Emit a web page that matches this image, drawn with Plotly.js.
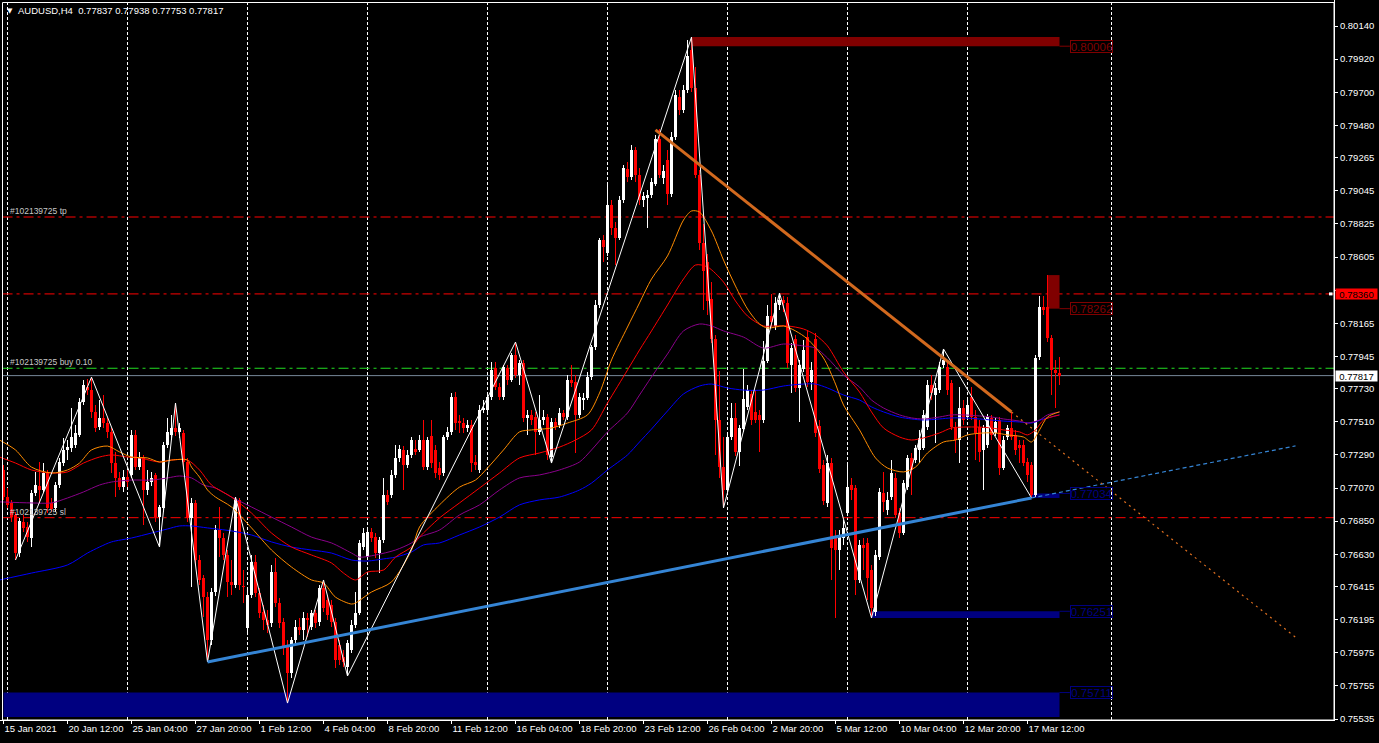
<!DOCTYPE html>
<html>
<head>
<meta charset="utf-8">
<script src="https://cdn.plot.ly/plotly-3.0.1.min.js"></script>
<style>html,body{margin:0;padding:0;background:#000;overflow:hidden}#chart{width:1379px;height:743px}</style>
</head>
<body>
<div id="chart"></div>
<script>
// ---------- DATA (AUDUSD, H4) : bar index 0 = 15 Jan 2021 20:00 ----------
const open = [
0.77190,0.77010,0.76971,0.76891,0.76638,0.76845,0.76811,0.76738,0.77037,0.77083,
0.77057,0.77170,0.76971,0.76938,0.77090,0.77236,0.77323,0.77336,0.77356,0.77423,
0.77642,0.77741,0.77721,0.77576,0.77475,0.77536,0.77502,0.77443,0.77236,0.77137,
0.77076,0.77143,0.77157,0.77423,0.77209,0.77270,0.77057,0.77110,0.77157,0.76877,
0.76938,0.77356,0.77423,0.77469,0.77443,0.77436,0.77243,0.76871,0.76971,0.76592,
0.76472,0.76345,0.76060,0.76379,0.76791,0.76738,0.76625,0.76446,0.76426,0.76991,
0.76419,0.76140,0.76359,0.76579,0.76372,0.76247,0.76193,0.76173,0.76512,0.76306,
0.76180,0.76014,0.75841,0.76060,0.76147,0.76127,0.76207,0.76147,0.76240,0.76180,
0.76406,0.76326,0.76293,0.76180,0.76027,0.75947,0.75881,0.75994,0.76160,0.76240,
0.76678,0.76611,0.76778,0.76744,0.76638,0.76725,0.77024,0.77024,0.77157,0.77270,
0.77323,0.77223,0.77290,0.77329,0.77323,0.77389,0.77209,0.77416,0.77323,0.77203,
0.77170,0.77409,0.77443,0.77675,0.77515,0.77502,0.77469,0.77489,0.77243,0.77190,
0.77589,0.77589,0.77675,0.77867,0.77741,0.77675,0.77867,0.77788,0.77954,0.77821,
0.77901,0.77536,0.77556,0.77542,0.77443,0.77522,0.77542,0.77276,0.77509,0.77489,
0.77569,0.77542,0.77788,0.77775,0.77556,0.77655,0.77668,0.77807,0.78007,0.78286,
0.78718,0.78632,0.78951,0.78798,0.78731,0.78984,0.79190,0.79137,0.79316,0.79150,
0.78984,0.78997,0.79017,0.79090,0.79389,0.79130,0.79250,0.79024,0.79403,0.79669,
0.79582,0.79715,0.79981,0.79728,0.79150,0.78698,0.78572,0.78326,0.78060,0.77522,
0.77209,0.77057,0.77409,0.77536,0.77310,0.77462,0.77609,0.77695,0.77576,0.77556,
0.77522,0.77914,0.78213,0.78147,0.78286,0.78320,0.78300,0.77888,0.78060,0.77734,
0.77861,0.78073,0.77775,0.78060,0.77482,0.77223,0.76971,0.77236,0.76744,0.76658,
0.76738,0.76904,0.77090,0.77070,0.76459,0.76692,0.76705,0.76525,0.76247,0.76611,
0.77037,0.76924,0.77010,0.77137,0.76904,0.76771,0.77076,0.77270,0.77256,0.77323,
0.77336,0.77475,0.77755,0.77688,0.77721,0.77888,0.77874,0.77768,0.77475,0.77389,
0.77602,0.77542,0.77675,0.77542,0.77475,0.77323,0.77356,0.77536,0.77436,0.77522,
0.77203,0.77409,0.77469,0.77423,0.77356,0.77356,0.77243,0.77223,0.77024,0.77941,
0.78273,0.78273,0.78067,0.77854,0.77837];
const high = [
0.77223,0.77070,0.76991,0.76911,0.76871,0.76891,0.76845,0.77057,0.77177,0.77243,
0.77236,0.77190,0.77004,0.77110,0.77270,0.77403,0.77389,0.77602,0.77489,0.77668,
0.77788,0.77794,0.77807,0.77622,0.77655,0.77688,0.77536,0.77469,0.77310,0.77177,
0.77190,0.77190,0.77456,0.77456,0.77310,0.77290,0.77190,0.77177,0.77170,0.76958,
0.77376,0.77536,0.77556,0.77635,0.77502,0.77456,0.77270,0.77004,0.76991,0.76625,
0.76492,0.76379,0.76406,0.76825,0.76944,0.76771,0.76658,0.76592,0.77010,0.77004,
0.76525,0.76406,0.76625,0.76625,0.76406,0.76293,0.76260,0.76559,0.76605,0.76339,
0.76207,0.76060,0.76080,0.76193,0.76207,0.76247,0.76240,0.76260,0.76260,0.76426,
0.76459,0.76359,0.76326,0.76207,0.76060,0.75994,0.76060,0.76193,0.76379,0.76725,
0.76805,0.76805,0.76805,0.76771,0.76744,0.77137,0.77057,0.77190,0.77356,0.77356,
0.77349,0.77323,0.77409,0.77389,0.77423,0.77522,0.77409,0.77522,0.77356,0.77243,
0.77423,0.77475,0.77701,0.77708,0.77556,0.77536,0.77522,0.77522,0.77290,0.77622,
0.77655,0.77701,0.77908,0.77908,0.77768,0.77888,0.77888,0.77967,0.78040,0.77921,
0.77921,0.77589,0.77589,0.77576,0.77688,0.77589,0.77562,0.77536,0.77536,0.77602,
0.77589,0.77821,0.77888,0.77821,0.77701,0.77701,0.77841,0.78020,0.78320,0.78731,
0.78751,0.79084,0.78984,0.78838,0.79010,0.79216,0.79236,0.79349,0.79336,0.79196,
0.79037,0.79050,0.79130,0.79416,0.79456,0.79216,0.79316,0.79436,0.79715,0.79715,
0.79748,0.80047,0.80067,0.79868,0.79183,0.78824,0.78625,0.78439,0.78087,0.77848,
0.77409,0.77443,0.77635,0.77635,0.77489,0.77861,0.77755,0.77721,0.77721,0.77589,
0.78047,0.78286,0.78359,0.78339,0.78366,0.78346,0.78339,0.78034,0.78087,0.77921,
0.78054,0.78120,0.77908,0.78100,0.77522,0.77256,0.77290,0.77270,0.76791,0.76791,
0.76858,0.77236,0.77137,0.77090,0.76725,0.76738,0.76738,0.76559,0.76658,0.77070,
0.77177,0.77044,0.77256,0.77170,0.76938,0.77123,0.77290,0.77303,0.77356,0.77456,
0.77589,0.77788,0.77821,0.77768,0.77908,0.77994,0.77921,0.77788,0.77509,0.77741,
0.77655,0.77655,0.77741,0.77589,0.77522,0.77489,0.77562,0.77556,0.77536,0.77542,
0.77416,0.77489,0.77576,0.77456,0.77389,0.77389,0.77270,0.77243,0.77954,0.78346,
0.78346,0.78485,0.78087,0.77921,0.77938];
const low = [
0.76991,0.76938,0.76845,0.76592,0.76611,0.76778,0.76712,0.76678,0.77017,0.76971,
0.77044,0.76904,0.76911,0.76911,0.77070,0.77216,0.77256,0.77310,0.77336,0.77409,
0.77622,0.77688,0.77536,0.77443,0.77456,0.77469,0.77403,0.77170,0.77010,0.77057,
0.77044,0.77076,0.77137,0.77190,0.77190,0.76825,0.77024,0.77083,0.76845,0.76678,
0.76911,0.77336,0.77389,0.77416,0.77403,0.77209,0.76845,0.76412,0.76559,0.76426,
0.76213,0.75914,0.76027,0.76352,0.76611,0.76592,0.76345,0.76359,0.76406,0.76392,
0.76306,0.76114,0.76339,0.76345,0.76207,0.76127,0.76107,0.76147,0.76279,0.76140,
0.75961,0.75641,0.75808,0.76027,0.76094,0.76060,0.76080,0.76127,0.76140,0.76153,
0.76247,0.76193,0.76147,0.75874,0.75894,0.75881,0.75821,0.75974,0.76140,0.76227,
0.76658,0.76592,0.76712,0.76605,0.76505,0.76705,0.76958,0.77004,0.77137,0.77243,
0.77057,0.77203,0.77270,0.77290,0.77310,0.77190,0.77190,0.77203,0.77137,0.77123,
0.77150,0.77389,0.77423,0.77456,0.77436,0.77436,0.77443,0.77177,0.77190,0.77170,
0.77569,0.77576,0.77655,0.77721,0.77655,0.77655,0.77755,0.77775,0.77801,0.77755,
0.77509,0.77423,0.77489,0.77290,0.77423,0.77489,0.77256,0.77236,0.77456,0.77469,
0.77522,0.77522,0.77741,0.77303,0.77536,0.77589,0.77655,0.77788,0.77987,0.78266,
0.78572,0.78612,0.78751,0.78552,0.78718,0.78964,0.79104,0.79117,0.79104,0.78951,
0.78938,0.78798,0.78997,0.79077,0.79130,0.79090,0.78951,0.79004,0.79383,0.79549,
0.79562,0.79695,0.79702,0.79130,0.78652,0.78253,0.78220,0.78034,0.77290,0.77137,
0.76938,0.77024,0.77389,0.77283,0.77216,0.77443,0.77589,0.77489,0.77502,0.77310,
0.77502,0.77901,0.78147,0.78120,0.78253,0.78240,0.77867,0.77701,0.77708,0.77509,
0.77841,0.77741,0.77721,0.77409,0.77170,0.76958,0.76944,0.76459,0.76207,0.76525,
0.76692,0.76884,0.76991,0.76359,0.76439,0.76525,0.76326,0.76207,0.76220,0.76592,
0.76911,0.76891,0.76991,0.76871,0.76738,0.76758,0.77057,0.77024,0.77236,0.77236,
0.77323,0.77456,0.77655,0.77369,0.77701,0.77867,0.77688,0.77456,0.77303,0.77236,
0.77489,0.77522,0.77522,0.77256,0.77243,0.77057,0.77336,0.77389,0.77416,0.77157,
0.77190,0.77389,0.77389,0.77290,0.77236,0.77216,0.77110,0.77004,0.77010,0.77921,
0.78220,0.78040,0.77688,0.77602,0.77753];
const close = [
0.77010,0.76958,0.76877,0.76638,0.76851,0.76805,0.76744,0.77037,0.77090,0.77057,
0.77170,0.76938,0.76931,0.77090,0.77243,0.77323,0.77342,0.77409,0.77436,0.77642,
0.77755,0.77721,0.77576,0.77469,0.77536,0.77502,0.77443,0.77236,0.77137,0.77076,
0.77143,0.77110,0.77423,0.77209,0.77276,0.77057,0.77110,0.77137,0.76877,0.76944,
0.77356,0.77443,0.77469,0.77443,0.77469,0.77243,0.76871,0.76971,0.76592,0.76459,
0.76345,0.76060,0.76379,0.76791,0.76738,0.76625,0.76446,0.76426,0.76991,0.76426,
0.76412,0.76359,0.76579,0.76372,0.76240,0.76193,0.76160,0.76512,0.76306,0.76173,
0.76014,0.75841,0.76060,0.76147,0.76127,0.76207,0.76193,0.76240,0.76173,0.76406,
0.76273,0.76227,0.76180,0.75927,0.75927,0.75914,0.76040,0.76160,0.76240,0.76705,
0.76771,0.76778,0.76738,0.76638,0.76725,0.77024,0.76978,0.77157,0.77270,0.77329,
0.77223,0.77290,0.77389,0.77310,0.77389,0.77209,0.77389,0.77236,0.77170,0.77157,
0.77409,0.77443,0.77675,0.77502,0.77502,0.77469,0.77489,0.77236,0.77223,0.77589,
0.77602,0.77675,0.77854,0.77741,0.77675,0.77874,0.77788,0.77954,0.77821,0.77901,
0.77536,0.77556,0.77522,0.77443,0.77522,0.77542,0.77290,0.77509,0.77475,0.77569,
0.77542,0.77788,0.77768,0.77556,0.77675,0.77668,0.77807,0.78007,0.78286,0.78718,
0.78671,0.78951,0.78798,0.78731,0.78984,0.79196,0.79137,0.79316,0.79150,0.78984,
0.79010,0.79017,0.79104,0.79389,0.79150,0.79177,0.79024,0.79403,0.79682,0.79582,
0.79715,0.79941,0.79728,0.79150,0.78698,0.78512,0.78313,0.78060,0.77522,0.77209,
0.77057,0.77409,0.77536,0.77310,0.77469,0.77661,0.77721,0.77522,0.77522,0.77522,
0.77914,0.78213,0.78173,0.78300,0.78320,0.78300,0.77901,0.78000,0.77734,0.77888,
0.77987,0.77775,0.77854,0.77436,0.77196,0.76984,0.77236,0.76671,0.76658,0.76744,
0.76805,0.77076,0.77057,0.76459,0.76692,0.76671,0.76472,0.76273,0.76625,0.77044,
0.76978,0.76991,0.77170,0.76891,0.76771,0.77103,0.77270,0.77190,0.77336,0.77403,
0.77556,0.77755,0.77701,0.77734,0.77874,0.77921,0.77721,0.77475,0.77389,0.77602,
0.77522,0.77622,0.77542,0.77436,0.77310,0.77469,0.77542,0.77423,0.77509,0.77203,
0.77389,0.77469,0.77409,0.77323,0.77336,0.77236,0.77157,0.77024,0.77934,0.78273,
0.78253,0.78067,0.77854,0.77834,0.77817];

// moving averages (read at selected bars)
const maOrangeX = [-1,3,7,12,16,19,22,26,29,32,36,39,42,46,47,49,51,53,57,62,67,72,77,80,83,87,88,92,97,102,104,109,114,118,121,125,129,132,137,141,146,149,152,156,159,162,166,170,172,174,177,180,183,186,189,191,195,198,201,205,208,210,214,218,221,225,228,231,235,238,241,245,248,251,255,257,259,261,264];
const maOrangeY = [0.77389,0.77323,0.77209,0.77170,0.77190,0.77236,0.77323,0.77349,0.77310,0.77276,0.77270,0.77243,0.77256,0.77256,0.77209,0.77143,0.77057,0.77010,0.76944,0.76805,0.76658,0.76545,0.76459,0.76439,0.76345,0.76299,0.76306,0.76379,0.76446,0.76658,0.76811,0.76958,0.77076,0.77123,0.77203,0.77323,0.77443,0.77456,0.77469,0.77502,0.77556,0.77701,0.77921,0.78140,0.78300,0.78459,0.78612,0.78851,0.78911,0.78904,0.78778,0.78585,0.78412,0.78260,0.78160,0.78133,0.78147,0.78114,0.78060,0.77934,0.77761,0.77622,0.77456,0.77270,0.77203,0.77177,0.77209,0.77303,0.77376,0.77389,0.77423,0.77436,0.77436,0.77423,0.77409,0.77376,0.77456,0.77542,0.77576];
const maRedX = [-1,3,7,12,16,20,24,27,31,34,39,42,46,49,52,57,62,67,72,77,82,85,88,91,95,98,102,104,109,114,119,124,129,134,139,143,147,151,156,159,162,166,170,173,176,180,183,186,190,193,196,200,203,206,210,214,217,220,224,227,230,234,237,240,244,247,250,254,256,258,260,264];
const maRedY = [0.77276,0.77236,0.77190,0.77170,0.77177,0.77236,0.77276,0.77290,0.77276,0.77270,0.77243,0.77256,0.77256,0.77190,0.77090,0.77010,0.76904,0.76771,0.76678,0.76625,0.76572,0.76505,0.76459,0.76512,0.76525,0.76611,0.76678,0.76744,0.76871,0.76971,0.77070,0.77170,0.77270,0.77303,0.77342,0.77389,0.77456,0.77635,0.77854,0.77987,0.78114,0.78286,0.78459,0.78552,0.78539,0.78439,0.78313,0.78213,0.78147,0.78147,0.78147,0.78127,0.78087,0.78014,0.77841,0.77708,0.77576,0.77469,0.77409,0.77389,0.77403,0.77436,0.77469,0.77475,0.77475,0.77469,0.77456,0.77443,0.77423,0.77456,0.77522,0.77556];
const maPurpleX = [-1,7,12,16,20,24,27,32,37,41,44,47,50,53,57,62,67,72,77,82,87,89,93,98,102,104,109,114,119,124,129,134,139,144,147,151,156,159,162,166,170,174,177,180,185,190,195,200,203,206,210,214,217,220,224,227,230,234,237,240,244,247,250,254,256,259,261,264];
const maPurpleY = [0.76978,0.76971,0.76971,0.77004,0.77044,0.77090,0.77110,0.77123,0.77123,0.77137,0.77150,0.77137,0.77090,0.77070,0.77010,0.76944,0.76877,0.76811,0.76744,0.76705,0.76638,0.76611,0.76625,0.76658,0.76705,0.76744,0.76791,0.76891,0.76958,0.77057,0.77137,0.77157,0.77190,0.77243,0.77323,0.77443,0.77569,0.77688,0.77808,0.77961,0.78114,0.78160,0.78147,0.78114,0.78073,0.78000,0.78027,0.78014,0.78000,0.77934,0.77821,0.77741,0.77655,0.77602,0.77556,0.77536,0.77529,0.77542,0.77556,0.77556,0.77549,0.77542,0.77529,0.77515,0.77502,0.77522,0.77556,0.77576];
const maBlueX = [-1,7,16,21,24,27,32,37,41,44,47,51,57,62,67,72,77,82,87,91,95,98,102,105,109,114,119,124,129,134,139,144,147,151,156,159,162,166,170,174,177,181,185,190,195,200,203,206,210,214,217,220,224,227,230,234,237,240,244,247,250,254,257,260,264];
const maBlueY = [0.76459,0.76505,0.76559,0.76638,0.76678,0.76712,0.76738,0.76771,0.76798,0.76818,0.76818,0.76805,0.76785,0.76758,0.76712,0.76678,0.76658,0.76638,0.76592,0.76585,0.76599,0.76611,0.76645,0.76692,0.76705,0.76758,0.76811,0.76877,0.76958,0.76991,0.77010,0.77057,0.77103,0.77190,0.77290,0.77376,0.77462,0.77582,0.77695,0.77748,0.77761,0.77735,0.77721,0.77721,0.77748,0.77761,0.77761,0.77735,0.77688,0.77655,0.77609,0.77576,0.77542,0.77529,0.77522,0.77529,0.77536,0.77536,0.77529,0.77522,0.77515,0.77509,0.77502,0.77529,0.77556];

// zigzag pivots
const zigzagX = [3,22,39,43,51,58,71,80,86,128,137,172,180,194,217,235,257];
const zigzagY = [0.76592,0.77807,0.76678,0.77635,0.75914,0.77010,0.75641,0.76459,0.75821,0.78040,0.77236,0.80067,0.76938,0.78366,0.76207,0.77994,0.77004];

// trend lines (anchor bars / prices) and their ray ends
const blueTrendX = [51,257], blueTrendY = [0.75914,0.77004];
const blueRayX = [257,323],  blueRayY = [0.77004,0.77350];
const orangeTrendX = [163,252], orangeTrendY = [0.79450,0.77575];
const orangeRayX = [252,323],   orangeRayY = [0.77575,0.76079];

// zones: [startBar, endBar, lowPrice, highPrice, labelPrice]
const redZones  = [[172,264,0.80006,0.80067,0.80006],[261,264,0.78262,0.78485,0.78262]];
const blueZones = [[257,264,0.77004,0.77034,0.77034],[217,264,0.76207,0.76251,0.76251],[0,264,0.75549,0.75711,0.75711]];

// horizontal price lines
const tpPrice = 0.78871, alertPrice = 0.78360, buyPrice = 0.77866, bidPrice = 0.77817, slPrice = 0.76873;

// axes
const xTickBars = [0,16,32,48,64,80,96,112,128,144,160,176,192,208,224,240,256];
const xTickLabels = ["15 Jan 2021","20 Jan 12:00","25 Jan 04:00","27 Jan 20:00","1 Feb 12:00","4 Feb 04:00","8 Feb 20:00","11 Feb 12:00","16 Feb 04:00","18 Feb 20:00","23 Feb 12:00","26 Feb 04:00","2 Mar 20:00","5 Mar 12:00","10 Mar 04:00","12 Mar 20:00","17 Mar 12:00"];
const yTicks = [0.80140,0.79920,0.79700,0.79480,0.79265,0.79045,0.78825,0.78605,0.78385,0.78165,0.77945,0.77730,0.77510,0.77290,0.77070,0.76850,0.76630,0.76415,0.76195,0.75975,0.75755,0.75535];
const hiddenTick = 0.78385; // covered by the alert price tag in the reference
const weekStartBars = [1,31,61,91,121,151,181,211,241,277];

// ---------- DRAWING ----------
const FONT = 'Liberation Sans, Arial, sans-serif';
const idx = close.map((_, i) => i);
const isUp = close.map((c, i) => c >= open[i]);
const candleColor = isUp.map(u => u ? '#ffffff' : '#ff0000');

const traces = [
  {type:'bar', x: idx, base: low, y: high.map((h,i)=>h-low[i]), width:0.25,
   marker:{color:candleColor, line:{width:0}}, hoverinfo:'skip'},
  {type:'bar', x: idx, base: open.map((o,i)=>Math.min(o,close[i])),
   y: open.map((o,i)=>Math.max(Math.abs(close[i]-o), 0.00007)), width:0.75,
   marker:{color:candleColor, line:{width:0}}, hoverinfo:'skip'},
  {type:'scatter', mode:'lines', x:maBlueX, y:maBlueY, line:{color:'#0000ff', width:1, shape:'spline', smoothing:0.8}, hoverinfo:'skip'},
  {type:'scatter', mode:'lines', x:maPurpleX, y:maPurpleY, line:{color:'#8b008b', width:1, shape:'spline', smoothing:0.8}, hoverinfo:'skip'},
  {type:'scatter', mode:'lines', x:maRedX, y:maRedY, line:{color:'#ff0000', width:1, shape:'spline', smoothing:0.8}, hoverinfo:'skip'},
  {type:'scatter', mode:'lines', x:maOrangeX, y:maOrangeY, line:{color:'#ff8c00', width:1, shape:'spline', smoothing:0.8}, hoverinfo:'skip'},
  {type:'scatter', mode:'lines', x:zigzagX, y:zigzagY, line:{color:'#ffffff', width:1}, hoverinfo:'skip'},
  {type:'scatter', mode:'lines', x:blueTrendX, y:blueTrendY, line:{color:'#3585d5', width:3}, hoverinfo:'skip'},
  {type:'scatter', mode:'lines', x:blueRayX, y:blueRayY, line:{color:'#3585d5', width:1.2, dash:'4px,3px'}, hoverinfo:'skip'},
  {type:'scatter', mode:'lines', x:orangeTrendX, y:orangeTrendY, line:{color:'#d2691e', width:3}, hoverinfo:'skip'},
  {type:'scatter', mode:'lines', x:orangeRayX, y:orangeRayY, line:{color:'#e07020', width:1.2, dash:'2px,4px'}, hoverinfo:'skip'}
];

const shapes = [];
weekStartBars.forEach(b => shapes.push({type:'line', xref:'x', yref:'paper', x0:b, x1:b, y0:0, y1:1,
  line:{color:'#ffffff', width:1, dash:'3px,2px'}, layer:'below'}));
const labelBar = 272, labelLeft = 266.6;
redZones.forEach(z => {
  shapes.push({type:'rect', xref:'x', yref:'y', x0:z[0], x1:z[1], y0:z[2], y1:z[3], fillcolor:'#800000', line:{width:0}, layer:'below'});
  shapes.push({type:'line', xref:'x', yref:'y', x0:z[1], x1:labelLeft, y0:z[4], y1:z[4], line:{color:'#800000', width:1}});
});
blueZones.forEach(z => {
  shapes.push({type:'rect', xref:'x', yref:'y', x0:z[0], x1:z[1], y0:z[2], y1:z[3], fillcolor:'#000080', line:{width:0}, layer:'below'});
  shapes.push({type:'line', xref:'x', yref:'y', x0:z[1], x1:labelLeft, y0:z[4], y1:z[4], line:{color:'#000080', width:1}});
});
const hline = (p, color, dash) => ({type:'line', xref:'paper', yref:'y', x0:0.0019, x1:1, y0:p, y1:p, line:{color, width:1, dash}, layer:'below'});
shapes.push(hline(tpPrice, '#ff0000', '10px,4px,3px,4px'));
shapes.push(hline(alertPrice, '#ff0000', '10px,4px,3px,4px'));
shapes.push(hline(buyPrice, '#22dd22', '10px,4px,3px,4px'));
shapes.push(hline(bidPrice, '#778899', 'solid'));
shapes.push(hline(slPrice, '#ff0000', '10px,4px,3px,4px'));
shapes.push({type:'rect', xref:'paper', yref:'y', x0:1329/1334, x1:1332.5/1334, y0:alertPrice-0.0001, y1:alertPrice+0.0001, fillcolor:'#ffffff', line:{width:0}});
shapes.push({type:'rect', xref:'paper', yref:'paper', x0:2.5/1334, x1:1, y0:0, y1:1-2.5/720, line:{color:'#ffffff', width:1}, fillcolor:'rgba(0,0,0,0)'});

const annotations = [
  {xref:'paper', yref:'paper', x:0, y:1, xanchor:'left', yanchor:'top', xshift:5, yshift:-5, showarrow:false,
   text:'\u25BC', font:{family:'DejaVu Sans', size:7, color:'#ffffff'}},
  {xref:'paper', yref:'paper', x:0, y:1, xanchor:'left', yanchor:'top', xshift:16, yshift:-3, showarrow:false,
   text:'AUDUSD,H4\u00A0\u00A0' + [open[open.length-1], high[high.length-1], low[low.length-1], close[close.length-1]].map(v=>v.toFixed(5)).join(' '),
   font:{family:FONT, size:9.5, color:'#ffffff'}},
  {xref:'paper', yref:'y', x:0, y:tpPrice, xanchor:'left', yanchor:'bottom', xshift:8, yshift:-1, showarrow:false,
   text:'#102139725 tp', font:{family:FONT, size:8.5, color:'#c8c8c8'}},
  {xref:'paper', yref:'y', x:0, y:buyPrice, xanchor:'left', yanchor:'bottom', xshift:8, yshift:-1, showarrow:false,
   text:'#102139725 buy 0.10', font:{family:FONT, size:8.5, color:'#c8c8c8'}},
  {xref:'paper', yref:'y', x:0, y:slPrice, xanchor:'left', yanchor:'bottom', xshift:8, yshift:-1, showarrow:false,
   text:'#102139725 sl', font:{family:FONT, size:8.5, color:'#c8c8c8'}},
  {xref:'paper', yref:'y', x:1, y:bidPrice, xanchor:'left', yanchor:'middle', xshift:1, showarrow:false,
   text:bidPrice.toFixed(5), bgcolor:'#ffffff', width:41, height:10, borderpad:0,
   font:{family:FONT, size:9.5, color:'#000000'}},
  {xref:'paper', yref:'y', x:1, y:alertPrice, xanchor:'left', yanchor:'middle', xshift:1, showarrow:false,
   text:alertPrice.toFixed(5), bgcolor:'#ff0000', width:41, height:10, borderpad:0,
   font:{family:FONT, size:9.5, color:'#000000'}}
];
redZones.forEach(z => annotations.push({xref:'x', yref:'y', x:labelBar, y:z[4], xanchor:'center', yanchor:'middle', showarrow:false,
  text:z[4].toFixed(5), width:41, height:11, borderpad:0, borderwidth:1, bordercolor:'#800000',
  font:{family:FONT, size:11.5, color:'#800000'}}));
blueZones.forEach(z => annotations.push({xref:'x', yref:'y', x:labelBar, y:z[4], xanchor:'center', yanchor:'middle', showarrow:false,
  text:z[4].toFixed(5), width:41, height:11, borderpad:0, borderwidth:1, bordercolor:'#000080',
  font:{family:FONT, size:11.5, color:'#000080'}}));

const layout = {
  width:1379, height:743,
  margin:{l:0, r:45, t:0, b:23, pad:0},
  paper_bgcolor:'#000000', plot_bgcolor:'#000000',
  showlegend:false, barmode:'overlay', bargap:0,
  xaxis:{range:[-0.875, 332.625], tickvals:xTickBars, ticktext:xTickLabels, tickangle:0, ticks:'outside', ticklen:3,
    tickcolor:'#ffffff', ticklabelposition:'outside right', showline:true, linecolor:'#ffffff', linewidth:1,
    showgrid:false, zeroline:false, fixedrange:true, tickfont:{family:FONT, size:9.5, color:'#ffffff'}},
  yaxis:{range:[0.755286, 0.80313], side:'right', tickvals:yTicks,
    ticktext:yTicks.map(v => v === hiddenTick ? '' : v.toFixed(5)),
    ticks:'outside', ticklen:3, tickcolor:'#ffffff', showline:true, linecolor:'#ffffff', linewidth:1,
    showgrid:false, zeroline:false, fixedrange:true, tickfont:{family:FONT, size:9.5, color:'#ffffff'}},
  shapes, annotations
};

Plotly.newPlot('chart', traces, layout, {displayModeBar:false, staticPlot:true});
</script>
</body>
</html>
